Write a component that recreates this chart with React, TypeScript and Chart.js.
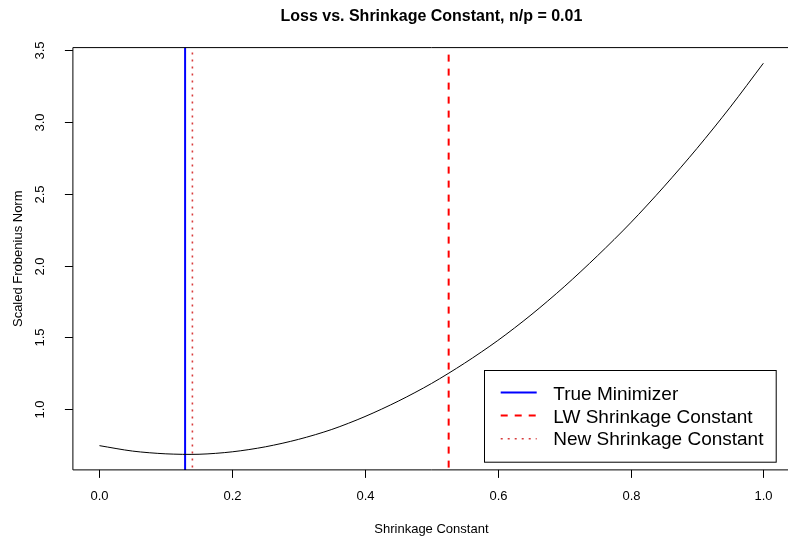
import React, { useEffect, useRef } from "react";
import { Chart, registerables } from "chart.js";

Chart.register(...registerables);

// ---- data ----
const shrinkage = [0, 0.05, 0.1, 0.15, 0.2, 0.25, 0.3, 0.35, 0.4, 0.45, 0.5, 0.55, 0.6, 0.65, 0.7, 0.75, 0.8, 0.85, 0.9, 0.95, 1.0];
const scaledNorm = [0.745, 0.707, 0.688, 0.685, 0.702, 0.737, 0.789, 0.858, 0.948, 1.055, 1.178, 1.320, 1.478, 1.656, 1.853, 2.068, 2.298, 2.549, 2.817, 3.104, 3.411];
const trueMinimizer = 0.129;
const lwConstant = 0.526;
const newConstant = 0.14;
const xTicks = [0, 0.2, 0.4, 0.6, 0.8, 1.0];
const yTicks = [1.0, 1.5, 2.0, 2.5, 3.0, 3.5];
const legendLabels = ["True Minimizer", "LW Shrinkage Constant", "New Shrinkage Constant"];
const chartTitle = "Loss vs. Shrinkage Constant, n/p = 0.01";
const xTitle = "Shrinkage Constant";
const yTitle = "Scaled Frobenius Norm";

// R-style axis limits (4% extension of data range)
const xLo = Math.min(...shrinkage), xHi = Math.max(...shrinkage);
const yLo = Math.min(...scaledNorm), yHi = Math.max(...scaledNorm);
const X_MIN = xLo - 0.04 * (xHi - xLo);
const X_MAX = xHi + 0.04 * (xHi - xLo);
const Y_MIN = yLo - 0.04 * (yHi - yLo);
const Y_MAX = yHi + 0.04 * (yHi - yLo);

const FONT = "'Liberation Sans', Arial, Helvetica, sans-serif";

function fmt1(v: number) {
  return v.toFixed(1);
}

const rAxesPlugin = {
  id: "rAxes",
  afterDraw(chart: any) {
    const { ctx, chartArea } = chart;
    const xs = chart.scales.x;
    const ys = chart.scales.y;
    const { left, right, top, bottom } = chartArea;
    ctx.save();
    ctx.strokeStyle = "#000";
    ctx.lineWidth = 1;
    ctx.setLineDash([]);
    // box
    ctx.beginPath();
    ctx.moveTo(right, top);
    ctx.lineTo(left, top);
    ctx.lineTo(left, bottom);
    ctx.lineTo(right, bottom);
    ctx.lineTo(right, top);
    ctx.stroke();

    ctx.fillStyle = "#000";
    ctx.font = `13px ${FONT}`;
    // x ticks
    ctx.textAlign = "center";
    ctx.textBaseline = "alphabetic";
    for (const v of xTicks) {
      const px = Math.round(xs.getPixelForValue(v)) + 0.5;
      ctx.beginPath();
      ctx.moveTo(px, bottom);
      ctx.lineTo(px, bottom + 8);
      ctx.stroke();
      ctx.fillText(fmt1(v), px, 500);
    }
    // y ticks
    for (const v of yTicks) {
      const py = Math.round(ys.getPixelForValue(v)) + 0.5;
      ctx.beginPath();
      ctx.moveTo(left - 8, py);
      ctx.lineTo(left, py);
      ctx.stroke();
      ctx.save();
      ctx.translate(44, py);
      ctx.rotate(-Math.PI / 2);
      ctx.fillText(fmt1(v), 0, 0);
      ctx.restore();
    }
    // axis titles
    const cx = (left + right) / 2;
    const cy = (top + bottom) / 2;
    ctx.fillText(xTitle, cx, 533);
    ctx.save();
    ctx.translate(22, cy);
    ctx.rotate(-Math.PI / 2);
    ctx.fillText(yTitle, 0, 0);
    ctx.restore();
    // main title
    ctx.font = `bold 16px ${FONT}`;
    ctx.fillText(chartTitle, cx, 20.7);

    // legend (styles read from the vertical-line datasets)
    const lx = 484, ly = 370, lw = 291.7, lh = 91.7;
    ctx.fillStyle = "#fff";
    ctx.fillRect(lx, ly, lw, lh);
    ctx.strokeStyle = "#000";
    ctx.lineWidth = 1;
    ctx.strokeRect(lx + 0.5, ly + 0.5, lw, lh);
    const rowsCenter = [392.5, 415.5, 438.8];
    const rowsBase = [399.5, 422.5, 445.3];
    ctx.font = `19px ${FONT}`;
    ctx.textAlign = "left";
    const dsets = chart.data.datasets.slice(1);
    dsets.forEach((ds: any, i: number) => {
      ctx.save();
      ctx.strokeStyle = ds.borderColor;
      ctx.lineWidth = ds.borderWidth;
      ctx.setLineDash(ds.borderDash || []);
      ctx.beginPath();
      ctx.moveTo(500.7, rowsCenter[i]);
      ctx.lineTo(536.7, rowsCenter[i]);
      ctx.stroke();
      ctx.restore();
      ctx.fillStyle = "#000";
      ctx.fillText(ds.label, 553.3, rowsBase[i]);
    });
    ctx.restore();
  },
};

export default function App() {
  const ref = useRef<HTMLCanvasElement | null>(null);

  useEffect(() => {
    if (!ref.current) return;
    const vline = (x: number) => [
      { x, y: Y_MAX },
      { x, y: Y_MIN },
    ];
    const chart = new Chart(ref.current, {
      type: "line",
      data: {
        datasets: [
          {
            label: "loss",
            data: shrinkage.map((x, i) => ({ x, y: scaledNorm[i] })),
            borderColor: "#000",
            borderWidth: 1,
            pointRadius: 0,
            tension: 0.3,
            fill: false,
          },
          {
            label: legendLabels[0],
            data: vline(trueMinimizer),
            borderColor: "#0000ff",
            borderWidth: 2,
            pointRadius: 0,
            fill: false,
          },
          {
            label: legendLabels[1],
            data: vline(lwConstant),
            borderColor: "#ff0000",
            borderWidth: 2,
            borderDash: [7, 7],
            borderDashOffset: 7,
            pointRadius: 0,
            fill: false,
          },
          {
            label: legendLabels[2],
            data: vline(newConstant),
            borderColor: "#d83c3c",
            borderWidth: 1.6,
            borderDash: [2, 5],
            borderDashOffset: 2,
            pointRadius: 0,
            fill: false,
          },
        ],
      } as any,
      options: {
        responsive: false,
        animation: false,
        events: [],
        layout: {
          padding: { left: 72.9, top: 47.6, right: 800 - 789.9, bottom: 536 - 469.9 },
        },
        plugins: {
          legend: { display: false },
          title: { display: false },
          tooltip: { enabled: false },
        },
        scales: {
          x: { type: "linear", min: X_MIN, max: X_MAX, display: false },
          y: { type: "linear", min: Y_MIN, max: Y_MAX, display: false },
        },
      } as any,
      plugins: [rAxesPlugin],
    });
    return () => chart.destroy();
  }, []);

  return (
    <div
      style={{
        position: "fixed",
        left: 0,
        top: 0,
        width: 788,
        height: 536,
        overflow: "hidden",
        background: "#fff",
      }}
    >
      <canvas ref={ref} width={800} height={536} style={{ display: "block", width: 800, height: 536 }} />
    </div>
  );
}
